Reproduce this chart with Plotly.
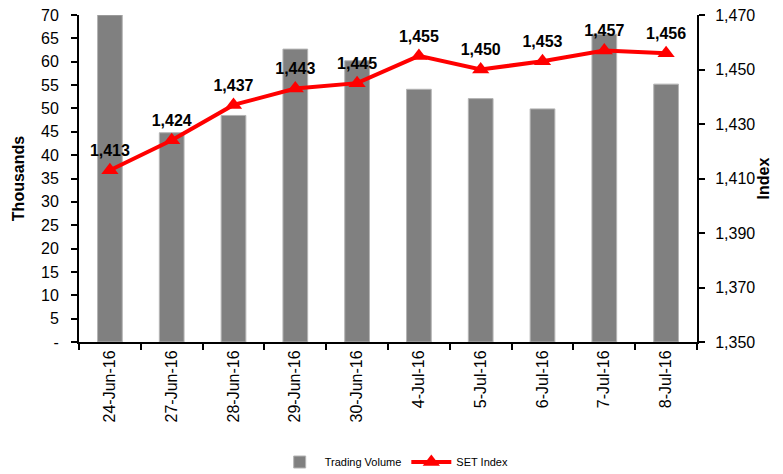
import plotly.graph_objects as go

# dates on the category axis
dates = ['24-Jun-16', '27-Jun-16', '28-Jun-16', '29-Jun-16', '30-Jun-16',
         '4-Jul-16', '5-Jul-16', '6-Jul-16', '7-Jul-16', '8-Jul-16']

# trading volume (thousands)
volume = [70.0, 44.8, 48.5, 62.7, 60.2, 54.1, 52.1, 49.9, 65.9, 55.2]

# SET index closing values
set_index = [1413, 1424, 1437, 1443, 1445, 1455, 1450, 1453, 1457, 1456]

# left axis ticks
vol_ticks = [0, 5, 10, 15, 20, 25, 30, 35, 40, 45, 50, 55, 60, 65, 70]
vol_ticktext = ['-', '5', '10', '15', '20', '25', '30', '35', '40', '45', '50', '55', '60', '65', '70']

# right axis ticks
idx_ticks = [1350, 1370, 1390, 1410, 1430, 1450, 1470]

font_main = 'Liberation Sans, Arial, sans-serif'

fig = go.Figure()

fig.add_trace(go.Bar(
    x=dates, y=volume, name='Trading Volume',
    marker=dict(color='#808080', line=dict(color='#b4b4b4', width=1)),
    yaxis='y',
))

fig.add_trace(go.Scatter(
    x=dates, y=set_index, name='SET Index',
    mode='lines+markers+text',
    line=dict(color='#ff0000', width=4),
    marker=dict(symbol='triangle-up', size=15, color='#ff0000'),
    text=[f'{v:,}' for v in set_index],
    textposition='top center',
    textfont=dict(family=font_main, size=16, color='black', weight='bold'),
    cliponaxis=False,
    yaxis='y2',
))

# page body adds an 8px offset, so the figure is a bit smaller than the window
fig.update_layout(
    width=775, height=466,
    margin=dict(l=71, r=86, t=7, b=132, autoexpand=False),
    plot_bgcolor='white', paper_bgcolor='white',
    font=dict(family=font_main, size=16, color='black'),
    bargap=0.6,
    showlegend=True,
    legend=dict(
        orientation='h', yref='paper',
        x=0.51, y=-0.367, xanchor='center', yanchor='middle',
        font=dict(family=font_main, size=11),
        itemwidth=40,
    ),
    xaxis=dict(
        type='category', tickangle=-90, automargin=False,
        range=[-0.5, len(dates) - 0.5],
        showline=True, linecolor='black', linewidth=2,
        ticks='outside', ticklen=6, tickwidth=1.5, tickcolor='black',
        tickson='boundaries', showgrid=False,
        tickfont=dict(size=16),
    ),
    yaxis=dict(
        range=[0, 70], tickvals=vol_ticks, ticktext=vol_ticktext,
        automargin=False, ticklabeloverflow='allow', ticklabelstandoff=9,
        showline=True, linecolor='black', linewidth=2,
        ticks='outside', ticklen=6, tickwidth=1.5, tickcolor='black',
        showgrid=False, zeroline=False,
        title=dict(text='<b>Thousands</b>', font=dict(size=16), standoff=12),
        tickfont=dict(size=16),
    ),
    yaxis2=dict(
        range=[1350, 1470], tickvals=idx_ticks, tickformat=',',
        overlaying='y', side='right', automargin=False,
        ticklabeloverflow='allow', ticklabelstandoff=7,
        showline=True, linecolor='black', linewidth=2,
        ticks='outside', ticklen=6, tickwidth=1.5, tickcolor='black',
        showgrid=False, zeroline=False,
        title=dict(text='<b>Index</b>', font=dict(size=16), standoff=3),
        tickfont=dict(size=16),
    ),
)

fig.write_html("out.html")
